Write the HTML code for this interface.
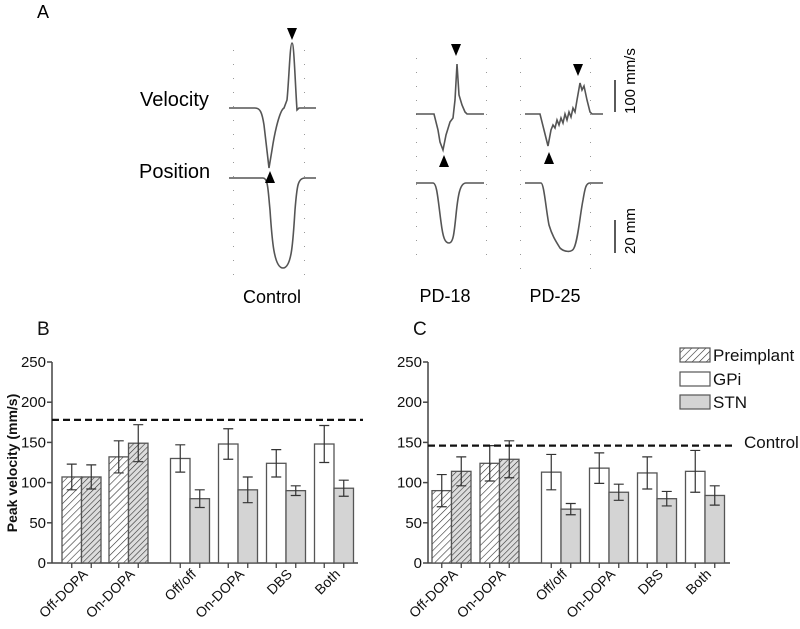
<!DOCTYPE html>
<html><head><meta charset="utf-8">
<style>
html,body{margin:0;padding:0;background:#fff;}
svg{display:block;font-family:"Liberation Sans",Arial,sans-serif;}
</style></head>
<body>
<svg id="fig" width="800" height="629" viewBox="0 0 800 629">
<defs>
<pattern id="hatch1" patternUnits="userSpaceOnUse" width="5" height="5" patternTransform="rotate(45)">
<rect width="5" height="5" fill="#fff"/><line x1="0" y1="0" x2="0" y2="5" stroke="#333" stroke-width="1.2"/></pattern>
<pattern id="hatch2" patternUnits="userSpaceOnUse" width="4" height="4" patternTransform="rotate(45)">
<rect width="4" height="4" fill="#ddd"/><line x1="0" y1="0" x2="0" y2="4" stroke="#333" stroke-width="1.2"/></pattern>
</defs>
<g id="panelA">
<text x="37" y="18" font-size="18">A</text>
<text x="140" y="106" font-size="20">Velocity</text>
<text x="139" y="178" font-size="20">Position</text>
<text x="272" y="303" font-size="18" text-anchor="middle">Control</text>
<text x="445" y="302" font-size="18" text-anchor="middle">PD-18</text>
<text x="555" y="302" font-size="18" text-anchor="middle">PD-25</text>
<g id="dots" fill="#999"></g>
<g fill="none" stroke="#555" stroke-width="1.6">
<path d="M229,108 L255,108 C260,108 262,112 264,125 L269,168 L272,150 C275,130 280,110 284,108 L287,100 C289,80 290,43 292,43 C294,43 295,80 297,110 L299,108 L316,108"/>
<path d="M229,178 L263,178 C268,178 268,190 270,210 C272,240 274,268 283,268 C292,268 293,240 295,210 C297,185 298,178 305,178 L316,178"/>
<path d="M416,114 L434,114 L438,130 L440,142 L443,150 L446,135 L450,122 L453,118 L455,100 L457,64 L459,95 L462,105 L465,112 L467,114 L484,114"/>
<path d="M416,183 L433,183 C437,183 438,200 441,222 C443,238 445,243 449,243 C453,243 454,235 456,215 C458,195 460,183 466,183 L484,183"/>
<path d="M525,114 L540,114 L544,130 L548,146 L551,130 L553,125 L555,128 L557,120 L559,125 L561,118 L563,123 L565,114 L567,120 L569,112 L571,117 L573,108 L575,112 L577,100 L580,83 L582,90 L584,86 L587,100 L590,112 L592,114 L603,114"/>
<path d="M525,183 L541,183 C544,183 546,210 549,225 C552,235 555,240 560,248 C564,252 572,253 574,248 C578,240 580,215 583,200 C585,188 586,183 590,183 L603,183"/>
</g>
<g fill="#000">
<path d="M287,28 L297,28 L292,40 Z"/>
<path d="M265,183 L275,183 L270,171 Z"/>
<path d="M451,44 L461,44 L456,56 Z"/>
<path d="M439,167 L449,167 L444,155 Z"/>
<path d="M573,64 L583,64 L578,76 Z"/>
<path d="M544,164 L554,164 L549,152 Z"/>
</g>
<line x1="615" y1="80" x2="615" y2="112" stroke="#222" stroke-width="1.5"/>
<line x1="615" y1="220" x2="615" y2="253" stroke="#222" stroke-width="1.5"/>
<text transform="translate(635,114) rotate(-90)" font-size="15">100 mm/s</text>
<text transform="translate(635,254) rotate(-90)" font-size="15">20 mm</text>
</g>
<g id="panelB"></g>
<g id="panelC"></g>
</svg>
<script>
const categories = ["Off-DOPA","On-DOPA","Off/off","On-DOPA","DBS","Both"];
const bPre = [107,107,132,149];
const bPreErr = [16,15,20,23];
const bGPi = [130,148,124,148];
const bGPiErr = [17,19,17,23];
const bSTN = [80,91,90,93];
const bSTNErr = [11,16,6,10];
const bControl = 178;
const cPre = [90,114,124,129];
const cPreErr = [20,18,22,23];
const cGPi = [113,118,112,114];
const cGPiErr = [22,19,20,26];
const cSTN = [67,88,80,84];
const cSTNErr = [7,10,9,12];
const cControl = 146;
const yTicks = [0,50,100,150,200,250];

const NS="http://www.w3.org/2000/svg";
function mk(parent,tag,attrs){const e=document.createElementNS(NS,tag);for(const k in attrs)e.setAttribute(k,attrs[k]);parent.appendChild(e);return e;}
const y0=563;
function Y(v){return y0 - v*0.804;}

function drawPanel(g, ax, axEnd, offs, pre, preE, gpi, gpiE, stn, stnE, ctrl, label){
  const X=v=>ax+v;
  const bw=19.5;
  let l=mk(g,'line',{x1:ax,y1:Y(0),x2:ax,y2:Y(250),stroke:'#444','stroke-width':1.5});
  
  
  l=mk(g,'line',{x1:ax,y1:Y(0),x2:axEnd,y2:Y(0),stroke:'#444','stroke-width':1.5});
  
  
  yTicks.forEach(t=>{
    const tk=mk(g,'line',{x1:ax-5,y1:Y(t),x2:ax,y2:Y(t),stroke:'#444','stroke-width':1.5});
    
    
    const tx=mk(g,'text',{x:ax-6,y:Y(t)+5,'font-size':15,'text-anchor':'end',fill:'#111'});
    tx.textContent=t;
    
    
  });
  const t=mk(g,'text',{x:ax-15,y:335,'font-size':19,fill:'#111'});
  t.textContent=label;
  
  
  const bars=[];
  pre.forEach((v,i)=>{bars.push({x:offs.pre[i],v:v,e:preE[i],fill:(i%2===0)?'url(#hatch1)':'url(#hatch2)',n:'bar-preimplant'});});
  gpi.forEach((v,i)=>{bars.push({x:offs.grp[i]-bw,v:v,e:gpiE[i],fill:'#fff',n:'bar-gpi'});
    bars.push({x:offs.grp[i],v:stn[i],e:stnE[i],fill:'#d4d4d4',n:'bar-stn'});});
  bars.forEach(b=>{
    const r=mk(g,'rect',{x:X(b.x),y:Y(b.v),width:bw,height:Y(0)-Y(b.v),fill:b.fill,stroke:'#555','stroke-width':1.3});
    
    
    const cx=X(b.x)+bw/2;
    const eb=mk(g,'path',{d:`M${cx-5},${Y(b.v+b.e)}H${cx+5}M${cx},${Y(b.v+b.e)}V${Y(b.v-b.e)}M${cx-5},${Y(b.v-b.e)}H${cx+5}`,stroke:'#333','stroke-width':1.2,fill:'none'});
    
    
    const tk=mk(g,'line',{x1:cx,y1:Y(0),x2:cx,y2:Y(0)+5,stroke:'#444','stroke-width':1.3});
    
    
  });
  const centers=[offs.pre[0]+bw, offs.pre[2]+bw].concat(offs.grp);
  categories.forEach((c,i)=>{
    const cx=X(centers[i])+7;
    const tx=mk(g,'text',{transform:`translate(${cx},${Y(0)+12}) rotate(-45)`,'font-size':14,'text-anchor':'end',fill:'#111'});
    tx.textContent=c;
    
    
  });
  const d=mk(g,'line',{x1:ax,y1:Y(ctrl),x2:axEnd+5,y2:Y(ctrl),stroke:'#111','stroke-width':2.2,'stroke-dasharray':'7,4'});
  
  
}
drawPanel(document.getElementById('panelB'),52,358,{pre:[10,29.5,57,76.5],grp:[138,186,234,282]},bPre,bPreErr,bGPi,bGPiErr,bSTN,bSTNErr,bControl,'B');
drawPanel(document.getElementById('panelC'),428,730,{pre:[4,23.5,52,71.5],grp:[133,181,229,277]},cPre,cPreErr,cGPi,cGPiErr,cSTN,cSTNErr,cControl,'C');

const pb=document.getElementById('panelB');
const yt=mk(pb,'text',{transform:'translate(17,463) rotate(-90)','font-size':14,'font-weight':'bold','text-anchor':'middle',fill:'#111'});
yt.textContent='Peak velocity (mm/s)';



const pc=document.getElementById('panelC');
const ct=mk(pc,'text',{x:744,y:448,'font-size':17,fill:'#111'});
ct.textContent='Control';


const leg=[['Preimplant','url(#hatch1)',355],['GPi','#fff',379],['STN','#d4d4d4',402]];
leg.forEach(l=>{
  const r=mk(pc,'rect',{x:680,y:l[2]-7,width:30,height:14,fill:l[1],stroke:'#555','stroke-width':1.2});
  
  
  const t=mk(pc,'text',{x:713,y:l[2]+6,'font-size':17,fill:'#111'});
  t.textContent=l[0];
  
  
});

const dg=document.getElementById('dots');
[[233,304,50,275],[416,486,58,258],[520,590,58,275]].forEach(s=>{
  [s[0],s[1]].forEach(x=>{for(let y=s[2];y<=s[3];y+=14){mk(dg,'rect',{x:x,y:y,width:1,height:1});}});
});
</script>
</body></html>
